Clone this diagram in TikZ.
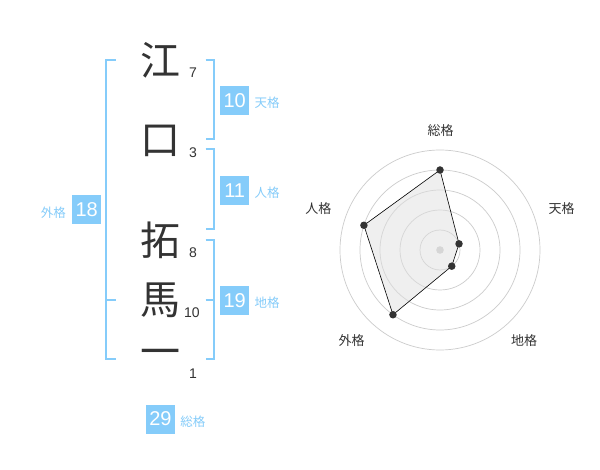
\documentclass[tikz,border=0pt]{standalone}
\usepackage{fontspec}
\usetikzlibrary{calc}
\setmainfont{Liberation Sans}
\newfontfamily\cjk{Noto Sans CJK JP}
\definecolor{bl}{HTML}{85CCFA}
\definecolor{ink}{HTML}{333333}
\definecolor{ring}{HTML}{CCCCCC}
\tikzset{
  kanji/.style={font=\cjk\fontsize{40}{40}\selectfont, text=ink, inner sep=0},
  strokes/.style={font=\fontsize{14}{14}\selectfont, text=ink, inner sep=0},
  valbox/.style={fill=bl, text=white, minimum size=29pt, inner sep=0, font=\fontsize{20}{20}\selectfont},
  kaku/.style={font=\cjk\fontsize{12.5}{12.5}\selectfont, text=bl, inner sep=0},
  brk/.style={draw=bl, line width=2pt},
  axlab/.style={font=\cjk\fontsize{13}{13}\selectfont, text=ink, inner sep=0},
  ringst/.style={draw=ring, line width=0.7pt},
  dot/.style={circle, fill=ink, inner sep=0, minimum size=7.5pt},
}
\begin{document}
\begin{tikzpicture}[x=1pt,y=-1pt]
\useasboundingbox (0,0) rectangle (600,470);
\fill[white] (0,0) rectangle (600,470);
% kanji
\node[kanji] (k1) at (160.5,60) {江};
\node[kanji] (k2) at (160,141) {口};
\node[kanji] (k3) at (160,240) {拓};
\node[kanji] (k4) at (160,300) {馬};
\node[kanji] (k5) at (160,358) {一};
% strokes
\node[strokes] (s1) at (193,72.5) {7};
\node[strokes] (s2) at (193,152.5) {3};
\node[strokes] (s3) at (193,252.5) {8};
\node[strokes] (s4) at (192,312.5) {10};
\node[strokes] (s5) at (193,373.5) {1};
% brackets
\draw[brk] (115.7,60) -- (105.7,60) -- (105.7,359) -- (115.7,359);
\draw[brk] (105.7,300) -- (115.7,300);
\draw[brk] (205.7,60) -- (214.3,60) -- (214.3,139.3) -- (205.7,139.3);
\draw[brk] (205.7,149.3) -- (214.3,149.3) -- (214.3,229) -- (205.7,229);
\draw[brk] (205.7,240) -- (214.3,240) -- (214.3,359) -- (205.7,359);
\draw[brk] (205.7,300) -- (214.3,300);
% value boxes
\node[valbox] (b1) at (234.7,100.3) {10};
\node[kaku, anchor=west] (l1) at ($(b1.east)+(5,2.5)$) {天格};
\node[valbox] (b2) at (234.7,190.3) {11};
\node[kaku, anchor=west] (l2) at ($(b2.east)+(5,2.5)$) {人格};
\node[valbox] (b3) at (234.7,300.3) {19};
\node[kaku, anchor=west] (l3) at ($(b3.east)+(5,2.5)$) {地格};
\node[valbox] (b4) at (86.7,210) {18};
\node[kaku, anchor=east] (l4) at ($(b4.west)+(-6,2.5)$) {外格};
\node[valbox] (b5) at (160.5,419) {29};
\node[kaku, anchor=west] (l5) at ($(b5.east)+(5,2.5)$) {総格};
% radar
\coordinate (c) at (440,250);
\foreach \r in {20,40,60,80,100} \draw[ringst] (c) circle (\r);
\fill[ring] (c) circle (3.8);
\coordinate (p1) at ($(c)+(-90:80)$);
\coordinate (p2) at ($(c)+(-18:20)$);
\coordinate (p3) at ($(c)+(54:20)$);
\coordinate (p4) at ($(c)+(126:80)$);
\coordinate (p5) at ($(c)+(198:80)$);
\filldraw[fill=black!12, fill opacity=0.5, draw=black, line width=0.6pt] (p1) -- (p2) -- (p3) -- (p4) -- (p5) -- cycle;
\foreach \p in {p1,p2,p3,p4,p5} \node[dot] at (\p) {};
\node[axlab] (a1) at (440.7,130.7) {総格};
\node[axlab] (a2) at (561.7,208.3) {天格};
\node[axlab] (a3) at (524,341) {地格};
\node[axlab] (a4) at (351.7,341) {外格};
\node[axlab] (a5) at (318.3,208.3) {人格};
\end{tikzpicture}
\end{document}
